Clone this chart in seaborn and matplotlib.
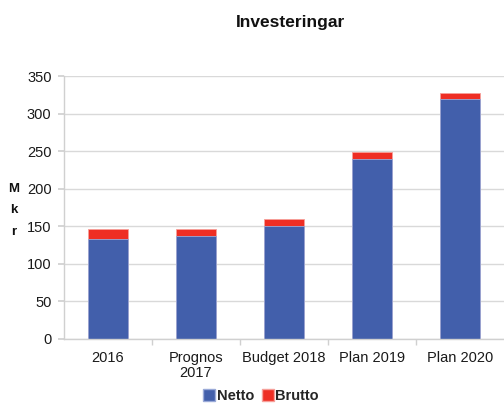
import matplotlib
matplotlib.use("Agg")
import matplotlib.pyplot as plt
import seaborn as sns
import pandas as pd
from matplotlib.patches import Patch
from matplotlib.ticker import FixedLocator, NullFormatter

categories = ["2016", "Prognos\n2017", "Budget 2018", "Plan 2019", "Plan 2020"]
netto = [133, 137, 151, 240, 319]
brutto = [13, 9, 8.5, 9, 8]

total = [n + b for n, b in zip(netto, brutto)]
df = pd.DataFrame({"kategori": categories, "Netto": netto, "Brutto": brutto, "Total": total})

sns.set_theme(style="white")
plt.rcParams["font.family"] = ["Liberation Sans", "DejaVu Sans"]

fig = plt.figure(figsize=(5.04, 4.03), dpi=100)
ax = fig.add_axes([0.127, 0.159, 0.873, 0.652])

blue = "#425FAB"
red = "#EE2E24"

sns.barplot(data=df, x="kategori", y="Total", color=red, width=0.46, ax=ax,
            saturation=1, edgecolor="#F6A09A", linewidth=0.6)
sns.barplot(data=df, x="kategori", y="Netto", color=blue, width=0.46, ax=ax,
            saturation=1, edgecolor="#9AAAD8", linewidth=0.6)

ax.set_ylim(0, 350)
ax.set_xlim(-0.5, 4.5)
ax.set_yticks(range(0, 351, 50))
ax.yaxis.grid(True, color="#D9D9D9", linewidth=1.0)
ax.set_axisbelow(True)
for s in ["top", "right"]:
    ax.spines[s].set_visible(False)
ax.spines["left"].set_color("#D0D0D0")
ax.spines["bottom"].set_color("#D0D0D0")
ax.spines["left"].set_linewidth(1.0)
ax.spines["bottom"].set_linewidth(1.0)

ax.tick_params(axis="y", which="major", length=4, color="#D0D0D0", labelsize=10.5,
               labelcolor="#1a1a1a", pad=5, left=True)
ax.tick_params(axis="x", which="major", length=0, labelsize=10.5, labelcolor="#1a1a1a", pad=9)
ax.xaxis.set_minor_locator(FixedLocator([0.5, 1.5, 2.5, 3.5]))
ax.xaxis.set_minor_formatter(NullFormatter())
ax.tick_params(axis="x", which="minor", length=4, color="#D0D0D0", bottom=True)
for lbl in ax.get_xticklabels():
    lbl.set_linespacing(1.05)

ax.set_xlabel("")
ax.set_ylabel("")

fig.text(0.576, 0.945, "Investeringar", ha="center", va="center", fontsize=12.5,
         fontweight="bold", color="#111111")
fig.text(0.028, 0.478, "M\nk\nr", ha="center", va="center", fontsize=9.5,
         fontweight="bold", linespacing=2.05, color="#111111")

handles = [Patch(facecolor=blue, edgecolor="#9AAAD8", label="Netto"),
           Patch(facecolor=red, edgecolor="#F6A09A", label="Brutto")]
leg = fig.legend(handles=handles, loc="center", bbox_to_anchor=(0.518, 0.018),
                 ncol=2, frameon=False, handlelength=0.85, handleheight=0.85,
                 handletextpad=0.1, columnspacing=0.5,
                 prop={"weight": "bold", "size": 10.5})

fig.savefig("out.png", dpi=100)
